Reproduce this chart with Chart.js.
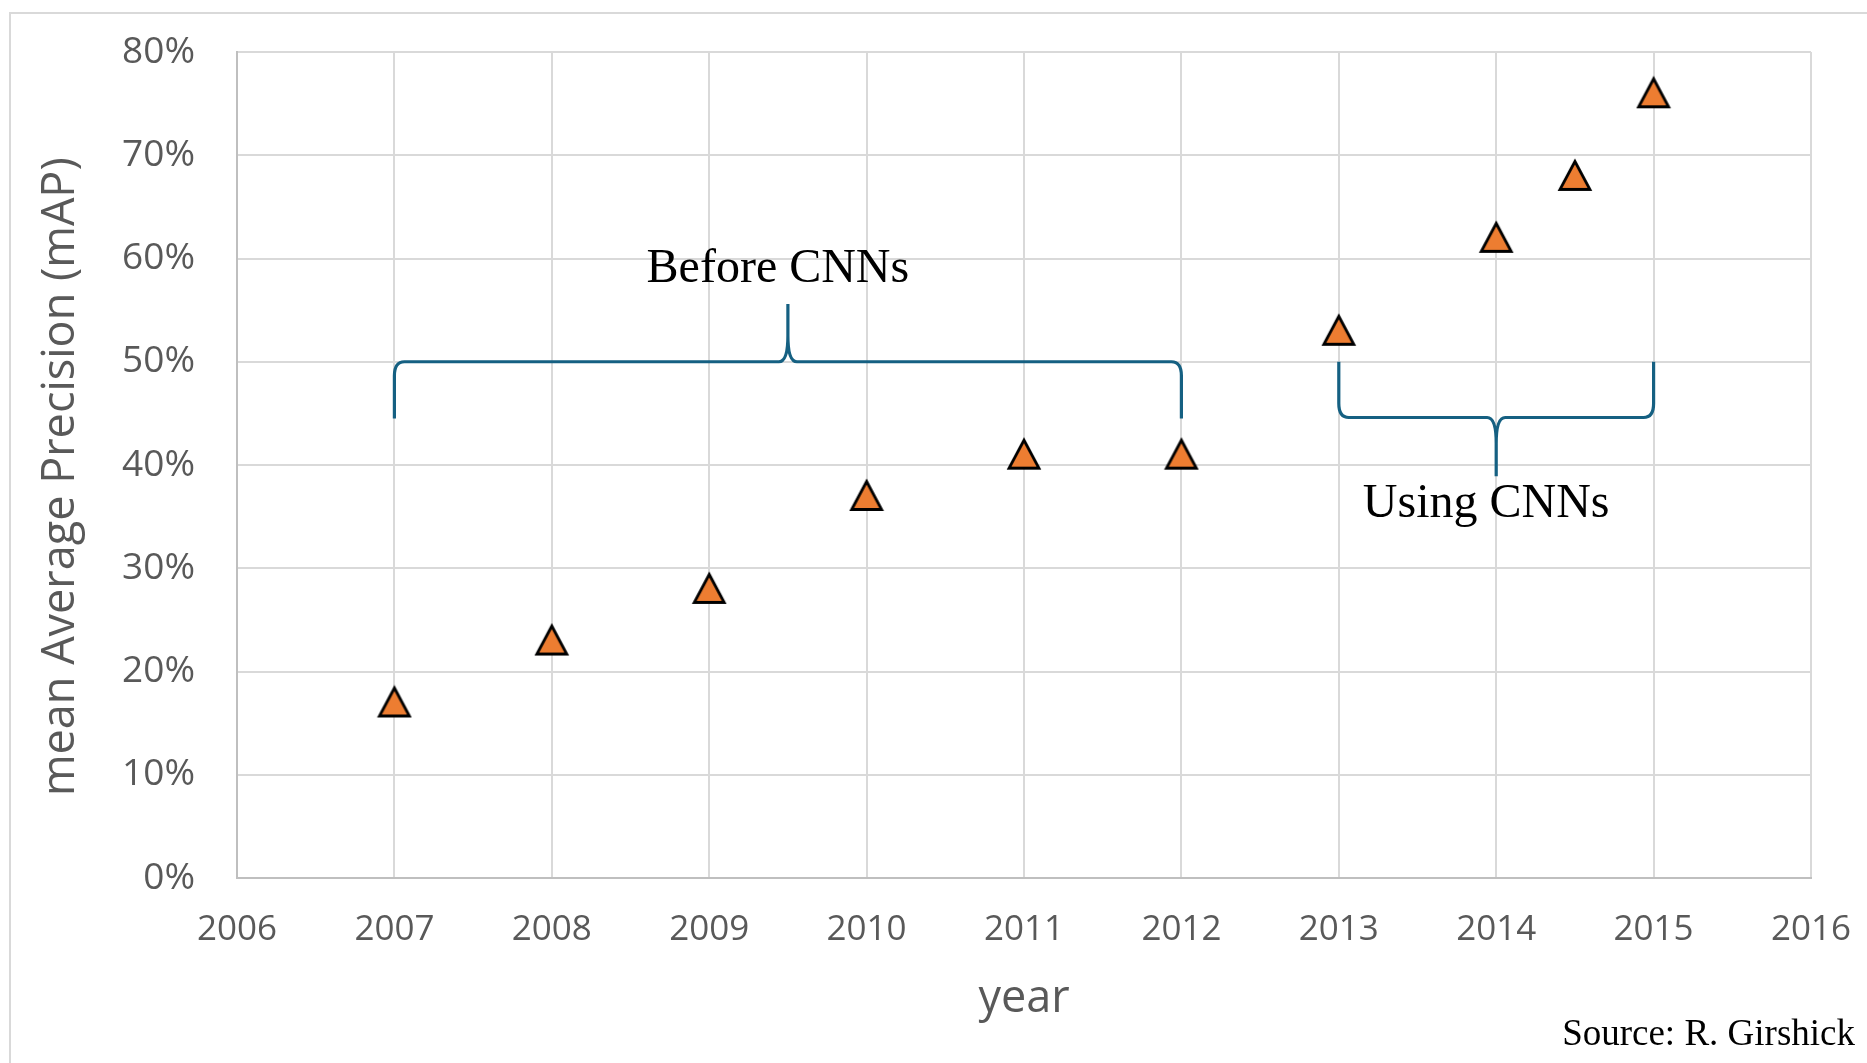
<!DOCTYPE html>
<html>
<head>
<meta charset="utf-8">
<script src="https://cdn.jsdelivr.net/npm/chart.js@4.4.1/dist/chart.umd.min.js"></script>
<style>
	html, body { margin: 0; padding: 0; background: #fff; overflow: hidden; }
	#frame { position: absolute; left: 9px; top: 12px; width: 2000px; height: 2000px; border: 2px solid #d9d9d9; }
	#wrap { position: absolute; left: 0; top: 0; width: 1867px; height: 1063px; }
</style>
</head>
<body>
<div id="frame"></div>
<div id="wrap"><canvas id="chart-map-by-year"></canvas></div>
<script>
// values
const YEARS = [2007, 2008, 2009, 2010, 2011, 2012, 2013, 2014, 2014.5, 2015];
const MAP_PERCENT = [17, 23, 28, 37, 41, 41, 53, 62, 68, 76];
const X_TICKS = [2006, 2007, 2008, 2009, 2010, 2011, 2012, 2013, 2014, 2015, 2016];
const Y_TICKS = [0, 10, 20, 30, 40, 50, 60, 70, 80];

// brace annotations: span, bar level, end level, tip level (in data units)
const BRACES = [
	{ label: "Before CNNs", from: 2007, to: 2012, tip: 2009.5, bar: 50, ends: 44.5, point: 55.6 },
	{ label: "Using CNNs", from: 2013, to: 2015, tip: 2014, bar: 44.6, ends: 50, point: 38.9 },
];

const COLORS = {
	orange: "#ED7D31",
	brace: "#156082",
	grid: "#d9d9d9",
	axis: "#bfbfbf",
	text: "#595959",
};

// Excel-like triangle marker, centered on its bounding box
const triangleMarker = (() => {
	const c = document.createElement("canvas");
	c.width = 36;
	c.height = 36;
	const g = c.getContext("2d");
	g.beginPath();
	g.moveTo(18, 3.5);
	g.lineTo(33, 31.5);
	g.lineTo(3, 31.5);
	g.closePath();
	g.fillStyle = COLORS.orange;
	g.fill();
	g.lineWidth = 2.8;
	g.strokeStyle = "#000";
	g.lineJoin = "miter";
	g.stroke();
	return c;
})();

const bracePlugin = {
	id: "braces",
	afterDatasetsDraw(chart) {
		const { ctx, scales: { x, y } } = chart;
		ctx.save();
		ctx.lineWidth = 3.2;
		ctx.strokeStyle = COLORS.brace;
		ctx.lineJoin = "round";
		ctx.lineCap = "butt";
		BRACES.forEach((b) => {
			const x0 = x.getPixelForValue(b.from);
			const x1 = x.getPixelForValue(b.to);
			const xt = x.getPixelForValue(b.tip);
			const yb = y.getPixelForValue(b.bar);
			const ye = y.getPixelForValue(b.ends);
			const yt = y.getPixelForValue(b.point);
			const s = Math.sign(ye - yb);
			ctx.beginPath();
			ctx.moveTo(x0, ye);
			ctx.lineTo(x0, yb + s * 14);
			ctx.quadraticCurveTo(x0, yb, x0 + 10, yb);
			ctx.lineTo(xt - 9, yb);
			ctx.quadraticCurveTo(xt, yb, xt, yb - s * 26);
			ctx.lineTo(xt, yt);
			ctx.moveTo(xt, yb - s * 26);
			ctx.quadraticCurveTo(xt, yb, xt + 9, yb);
			ctx.lineTo(x1 - 10, yb);
			ctx.quadraticCurveTo(x1, yb, x1, yb + s * 14);
			ctx.lineTo(x1, ye);
			ctx.stroke();

			ctx.fillStyle = "#000";
			ctx.font = "48px 'Liberation Serif', 'Times New Roman', serif";
			ctx.textAlign = "center";
			ctx.textBaseline = "alphabetic";
			const ly = s > 0 ? yt - 22 : yt + 41;
			ctx.fillText(b.label, xt - 10, ly);
		});

		ctx.font = "37px 'Liberation Serif', 'Times New Roman', serif";
		ctx.textAlign = "right";
		ctx.fillStyle = "#000";
		ctx.fillText("Source: R. Girshick", 1855, 1045);
		ctx.restore();
	},
};

const CHART_WRAPPER = document.getElementById("chart-map-by-year");

const CHART_DATA = {
	datasets: [
		{
			label: "mAP",
			data: YEARS.map((yr, i) => ({ x: yr, y: MAP_PERCENT[i] })),
			pointStyle: triangleMarker,
			pointRadius: 16,
			pointHoverRadius: 16,
			showLine: false,
		},
	],
};

const CHART_CONFIG = {
	type: "scatter",
	data: CHART_DATA,
	options: {
		responsive: true,
		maintainAspectRatio: false,
		animation: false,
		layout: {
			autoPadding: false,
			padding: { top: 52, right: 56, bottom: 0, left: 0 },
		},
		plugins: {
			legend: { display: false },
			title: { display: false },
			tooltip: { enabled: false },
		},
		scales: {
			x: {
				type: "linear",
				min: X_TICKS[0],
				max: X_TICKS[X_TICKS.length - 1],
				afterBuildTicks: (scale) => {
					scale.ticks = X_TICKS.map((v) => ({ value: v }));
				},
				afterFit: (scale) => {
					scale.height = 185;
					// labels overflow into the fixed layout padding, no extra room needed
					scale.paddingLeft = 0;
					scale.paddingRight = 0;
				},
				border: { display: true, color: COLORS.axis, width: 2 },
				grid: { color: COLORS.grid, lineWidth: 2, drawTicks: false },
				ticks: {
					color: COLORS.text,
					padding: 31,
					font: { family: "'Open Sans'", size: 35 },
					callback: (value) => String(value),
				},
				title: {
					display: true,
					text: "year",
					color: COLORS.text,
					font: { family: "'Open Sans'", size: 45 },
					padding: { top: 0, bottom: 37 },
				},
			},
			y: {
				min: Y_TICKS[0],
				max: Y_TICKS[Y_TICKS.length - 1],
				afterBuildTicks: (scale) => {
					scale.ticks = Y_TICKS.map((v) => ({ value: v }));
				},
				afterFit: (scale) => {
					scale.width = 237;
					scale.paddingTop = 0;
					scale.paddingBottom = 0;
				},
				border: { display: true, color: COLORS.axis, width: 2 },
				grid: { color: COLORS.grid, lineWidth: 2, drawTicks: false },
				ticks: {
					color: COLORS.text,
					padding: 42,
					font: { family: "'Open Sans'", size: 37 },
					callback: (value) => value + "%",
				},
				title: {
					display: true,
					// trailing spaces nudge the rotated title a little lower, as in the original
					text: "mean Average Precision (mAP)  ",
					color: COLORS.text,
					font: { family: "'Open Sans'", size: 45 },
					padding: { top: 34, bottom: 0 },
				},
			},
		},
	},
	plugins: [bracePlugin],
};

if (CHART_WRAPPER) {
	new Chart(CHART_WRAPPER, CHART_CONFIG);
}
</script>
</body>
</html>
